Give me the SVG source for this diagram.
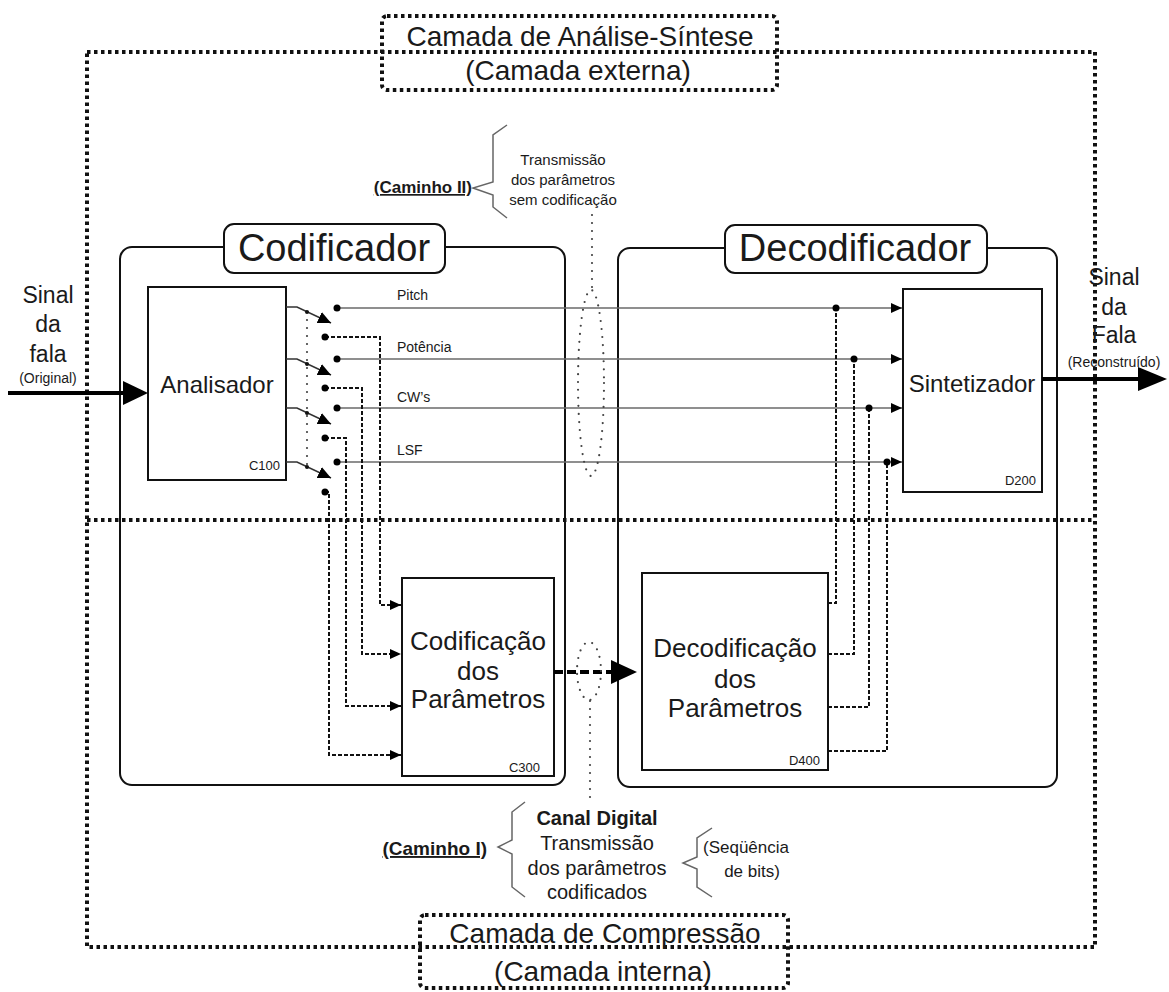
<svg xmlns="http://www.w3.org/2000/svg" width="1169" height="992" viewBox="0 0 1169 992">
  <defs>
    <style>
      text { font-family: "Liberation Sans", Arial, sans-serif; fill: #1a1a1a; }
      .layer { fill: none; stroke: #111; stroke-width: 4; stroke-dasharray: 3.5 3.5; }
      .gdot { fill: none; stroke: #444; stroke-width: 2.2; stroke-dasharray: 0 8; stroke-linecap: round; }
      .box { fill: #fff; stroke: #111; stroke-width: 2; }
      .frame { fill: none; stroke: #111; stroke-width: 2; }
      .wire { fill: none; stroke: #6a6a6a; stroke-width: 1.6; }
      .sw { fill: none; stroke: #333; stroke-width: 1.6; }
      .dash { fill: none; stroke: #111; stroke-width: 2; stroke-dasharray: 4 2; }
      .brace { fill: none; stroke: #666; stroke-width: 1.5; }
      .big { fill: none; stroke: #000; stroke-width: 4; }
    </style>
    <marker id="tip" markerUnits="userSpaceOnUse" markerWidth="12" markerHeight="10" refX="11" refY="5" orient="auto">
      <path d="M0,0 L11,5 L0,10 z" fill="#000"/>
    </marker>
    <marker id="sw" markerUnits="userSpaceOnUse" markerWidth="14" markerHeight="12" refX="13" refY="6" orient="auto">
      <path d="M0,0 L13,6 L0,12 z" fill="#000"/>
    </marker>
  </defs>

  <rect width="1169" height="992" fill="#fff"/>

  <!-- outer and inner layers -->
  <g id="layers">
    <path class="layer" d="M87,52 H1095 V947 H87 Z"/>
    <path class="layer" d="M87,520 H1095"/>
    <rect class="layer" x="382" y="16" width="395" height="74" rx="5"/>
    <rect class="layer" x="420" y="915" width="368" height="73" rx="5"/>
    <text x="580" y="46" font-size="28" text-anchor="middle">Camada de Análise-Síntese</text>
    <text x="578" y="80" font-size="28" text-anchor="middle">(Camada externa)</text>
    <text x="605" y="943" font-size="28" text-anchor="middle">Camada de Compressão</text>
    <text x="603" y="981" font-size="28" text-anchor="middle">(Camada interna)</text>
  </g>

  <!-- encoder frame -->
  <g id="codificador">
    <rect class="frame" x="120" y="247" width="445" height="538" rx="12"/>
    <rect class="box" x="224" y="224" width="221" height="49" rx="10"/>
    <text x="334" y="261" font-size="38" text-anchor="middle">Codificador</text>
  </g>

  <!-- decoder frame -->
  <g id="decodificador">
    <rect class="frame" x="618" y="248" width="439" height="539" rx="12"/>
    <rect class="box" x="725" y="225" width="262" height="48" rx="10"/>
    <text x="855" y="261" font-size="38" text-anchor="middle">Decodificador</text>
  </g>

  <g id="c100">
    <rect class="box" x="148" y="287" width="138" height="193"/>
    <text x="217" y="393" font-size="24" text-anchor="middle">Analisador</text>
    <text x="280" y="470" font-size="13" text-anchor="end">C100</text>
  </g>

  <g id="d200">
    <rect class="box" x="903" y="289" width="139" height="203"/>
    <text x="972" y="392" font-size="24" text-anchor="middle">Sintetizador</text>
    <text x="1036" y="485" font-size="13" text-anchor="end">D200</text>
  </g>

  <g id="c300">
    <rect class="box" x="402" y="578" width="152" height="198"/>
    <text x="478" y="650" font-size="26" text-anchor="middle">Codificação</text>
    <text x="478" y="680" font-size="26" text-anchor="middle">dos</text>
    <text x="478" y="708" font-size="26" text-anchor="middle">Parâmetros</text>
    <text x="540" y="772" font-size="13" text-anchor="end">C300</text>
  </g>

  <g id="d400">
    <rect class="box" x="642" y="573" width="186" height="197"/>
    <text x="735" y="657" font-size="26" text-anchor="middle">Decodificação</text>
    <text x="735" y="688" font-size="26" text-anchor="middle">dos</text>
    <text x="735" y="717" font-size="26" text-anchor="middle">Parâmetros</text>
    <text x="820" y="765" font-size="13" text-anchor="end">D400</text>
  </g>

  <!-- signal in / out -->
  <g id="entrada">
    <text x="48" y="303" font-size="23" text-anchor="middle">Sinal</text>
    <text x="48" y="332" font-size="23" text-anchor="middle">da</text>
    <text x="48" y="362" font-size="23" text-anchor="middle">fala</text>
    <text x="48" y="383" font-size="14" text-anchor="middle">(Original)</text>
  </g>
  <g id="saida">
    <text x="1114" y="285" font-size="23" text-anchor="middle">Sinal</text>
    <text x="1114" y="315" font-size="23" text-anchor="middle">da</text>
    <text x="1114" y="343" font-size="23" text-anchor="middle">Fala</text>
    <text x="1114" y="367" font-size="14" text-anchor="middle">(Reconstruído)</text>
  </g>

  <!-- path annotations -->
  <g id="caminho2">
    <text x="472" y="193" font-size="17" font-weight="bold" text-anchor="end" text-decoration="underline">(Caminho II)</text>
    <path class="brace" d="M507,125 L493,135 V182 L473,188 L493,195 V207 L507,218"/>
    <text x="563" y="165" font-size="15" text-anchor="middle">Transmissão</text>
    <text x="563" y="185" font-size="15" text-anchor="middle">dos parâmetros</text>
    <text x="563" y="205" font-size="15" text-anchor="middle">sem codificação</text>
  </g>
  <g id="caminho1">
    <text x="487" y="855" font-size="19" font-weight="bold" text-anchor="end" text-decoration="underline">(Caminho I)</text>
    <path class="brace" d="M525,802 L512,812 V840 L498,847 L512,854 V887 L525,897"/>
    <text x="597" y="825" font-size="20" font-weight="bold" text-anchor="middle">Canal Digital</text>
    <text x="597" y="850" font-size="20" text-anchor="middle">Transmissão</text>
    <text x="597" y="875" font-size="20" text-anchor="middle">dos parâmetros</text>
    <text x="597" y="899" font-size="20" text-anchor="middle">codificados</text>
    <path class="brace" d="M712,828 L697,838 V857 L683,863 L697,869 V887 L712,897"/>
    <text x="703" y="853" font-size="17">(Seqüência</text>
    <text x="752" y="877" font-size="17" text-anchor="middle">de bits)</text>
  </g>

  <!-- connectors -->
  <g id="connectors">
    <!-- main signal arrows -->
    <path class="big" d="M8,393 H125"/>
    <path d="M123,381 L148,393 L123,405 Z" fill="#000"/>
    <path class="big" d="M1042,379 H1140"/>
    <path d="M1138,367 L1167,379 L1138,391 Z" fill="#000"/>

    <!-- ganged switches at the analyser output -->
    <path class="sw" d="M286,307 H297 L331,323" marker-end="url(#sw)"/>
    <path class="sw" d="M286,359 H297 L331,375" marker-end="url(#sw)"/>
    <path class="sw" d="M286,408 H297 L331,424" marker-end="url(#sw)"/>
    <path class="sw" d="M286,462 H297 L331,478" marker-end="url(#sw)"/>
    <path class="gdot" d="M307,312 V468"/>
    <g fill="#111">
      <circle cx="307" cy="312" r="2"/>
      <circle cx="307" cy="364" r="2"/>
      <circle cx="307" cy="413" r="2"/>
      <circle cx="307" cy="467" r="2"/>
    </g>

    <!-- uncoded parameter lines -->
    <path class="wire" d="M337,308 H902" marker-end="url(#tip)"/>
    <path class="wire" d="M337,359 H902" marker-end="url(#tip)"/>
    <path class="wire" d="M337,408 H902" marker-end="url(#tip)"/>
    <path class="wire" d="M337,462 H902" marker-end="url(#tip)"/>
    <text x="397" y="300" font-size="14">Pitch</text>
    <text x="397" y="352" font-size="14">Potência</text>
    <text x="397" y="402" font-size="14">CW’s</text>
    <text x="397" y="455" font-size="14">LSF</text>

    <!-- coded path: switch contacts to parameter coder -->
    <path class="dash" d="M325,337 H380 V605 H401" marker-end="url(#tip)"/>
    <path class="dash" d="M325,388 H362 V654 H401" marker-end="url(#tip)"/>
    <path class="dash" d="M325,438 H346 V706 H401" marker-end="url(#tip)"/>
    <path class="dash" d="M325,492 H329 V755 H401" marker-end="url(#tip)"/>

    <!-- decoder outputs joining the synthesiser inputs -->
    <path class="dash" d="M828,603 H836 V308"/>
    <path class="dash" d="M828,654 H854 V359"/>
    <path class="dash" d="M828,707 H869 V408"/>
    <path class="dash" d="M828,751 H887 V462"/>

    <g fill="#000">
      <circle cx="337" cy="308" r="3.5"/>
      <circle cx="337" cy="359" r="3.5"/>
      <circle cx="337" cy="408" r="3.5"/>
      <circle cx="337" cy="462" r="3.5"/>
      <circle cx="325" cy="337" r="3.5"/>
      <circle cx="325" cy="388" r="3.5"/>
      <circle cx="325" cy="438" r="3.5"/>
      <circle cx="325" cy="492" r="3.5"/>
      <circle cx="836" cy="308" r="3.5"/>
      <circle cx="854" cy="359" r="3.5"/>
      <circle cx="869" cy="408" r="3.5"/>
      <circle cx="887" cy="462" r="3.5"/>
    </g>

    <!-- digital channel -->
    <path d="M554,672 H612" fill="none" stroke="#000" stroke-width="4" stroke-dasharray="9 4"/>
    <path d="M611,660 L637,672 L611,684 Z" fill="#000"/>

    <!-- channel markers -->
    <path class="gdot" d="M592,215 V290"/>
    <ellipse class="gdot" cx="591" cy="383" rx="13" ry="93"/>
    <ellipse class="gdot" cx="589" cy="671" rx="12" ry="29"/>
    <path class="gdot" d="M590,701 V802"/>
  </g>
</svg>
